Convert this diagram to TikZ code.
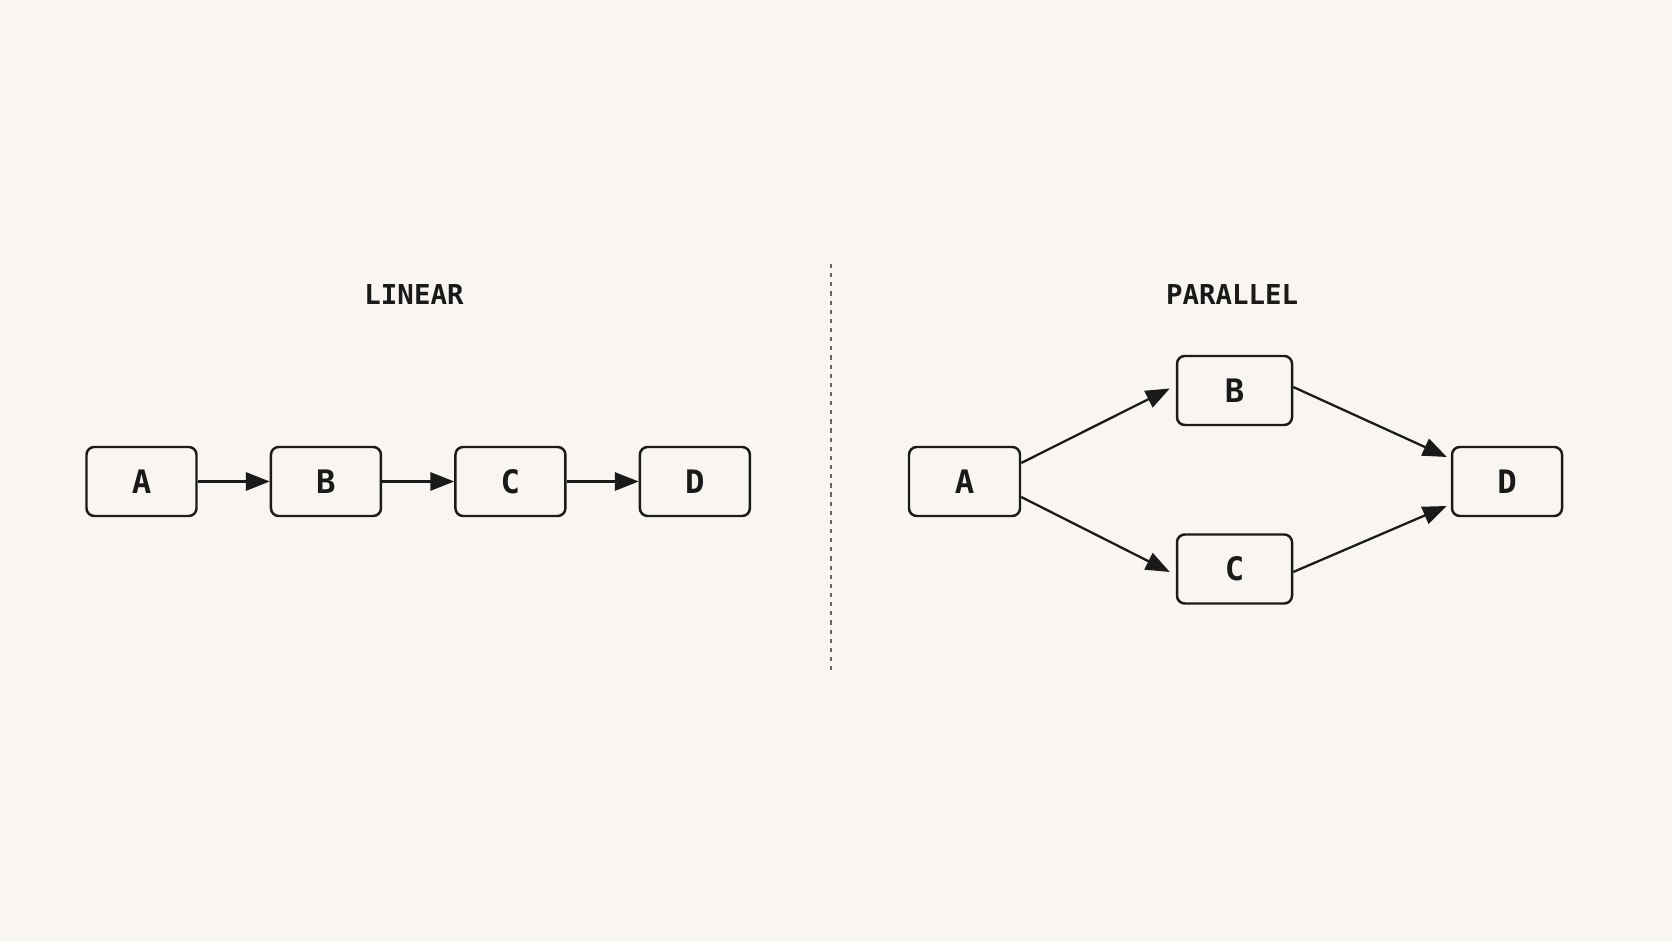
\documentclass[tikz,border=0pt]{standalone}
\usepackage{fontspec}
\setmonofont{DejaVu Sans Mono}
\usepackage{tikz}
\usetikzlibrary{positioning,arrows.meta}

\definecolor{paper}{HTML}{F9F6F1}
\definecolor{ink}{HTML}{1A1A1A}
\definecolor{divider}{HTML}{666666}

\tikzset{
  box/.style={draw=ink,line width=0.7pt,rectangle,rounded corners=2.2pt,minimum width=1.10cm,minimum height=0.69cm,
    font=\ttfamily\bfseries\fontsize{9.2}{11}\selectfont,text=ink},
  title/.style={font=\ttfamily\bfseries\fontsize{7.8}{9}\selectfont,text=ink},
  flow/.style={draw=ink,line width=0.65pt,-{Triangle[length=6.8pt,width=5.2pt]}}
}

\begin{document}
\begin{tikzpicture}
        \fill[paper] (0,0) rectangle (16.72,9.41);
        \useasboundingbox (0,0) rectangle (16.72,9.41);
        % linear
        \node[title] (linear) at (4.14,6.46) {LINEAR};
        \node[box] (A) at (1.415,4.595) {A};
        \node[box,right=0.72cm of A] (B) {B};
        \node[box,right=0.72cm of B] (C) {C};
        \node[box,right=0.72cm of C] (D) {D};
        \draw[flow] (A) -- (B);
        \draw[flow] (B) -- (C);
        \draw[flow] (C) -- (D);
        % divider
        \coordinate (top) at (8.31,6.77);
        \coordinate (bottom) at (8.31,2.69);
        \draw[divider,line width=0.4pt,dash pattern=on 1.2pt off 1.4pt] (top) -- (bottom);
        % parallel
        \node[title] (parallel) at (12.32,6.46) {PARALLEL};
        \node[box,minimum width=1.11cm] (pA) at (9.645,4.595) {A};
        \node[box,minimum width=1.15cm] (pB) at (12.345,5.505) {B};
        \node[box,minimum width=1.15cm] (pC) at (12.345,3.72) {C};
        \node[box] (pD) at (15.07,4.595) {D};
        \draw[flow] ([yshift=1.85mm]pA.east) -- ([xshift=-0.6mm,yshift=0.2mm]pB.west);
        \draw[flow] ([yshift=-1.55mm]pA.east) -- ([xshift=-0.6mm,yshift=-0.3mm]pC.west);
        \draw[flow] ([yshift=0.35mm]pB.east) -- ([xshift=-0.4mm,yshift=2.45mm]pD.west);
        \draw[flow] ([yshift=-0.3mm]pC.east) -- ([xshift=-0.4mm,yshift=-2.45mm]pD.west);
      \end{tikzpicture}
\end{document}
